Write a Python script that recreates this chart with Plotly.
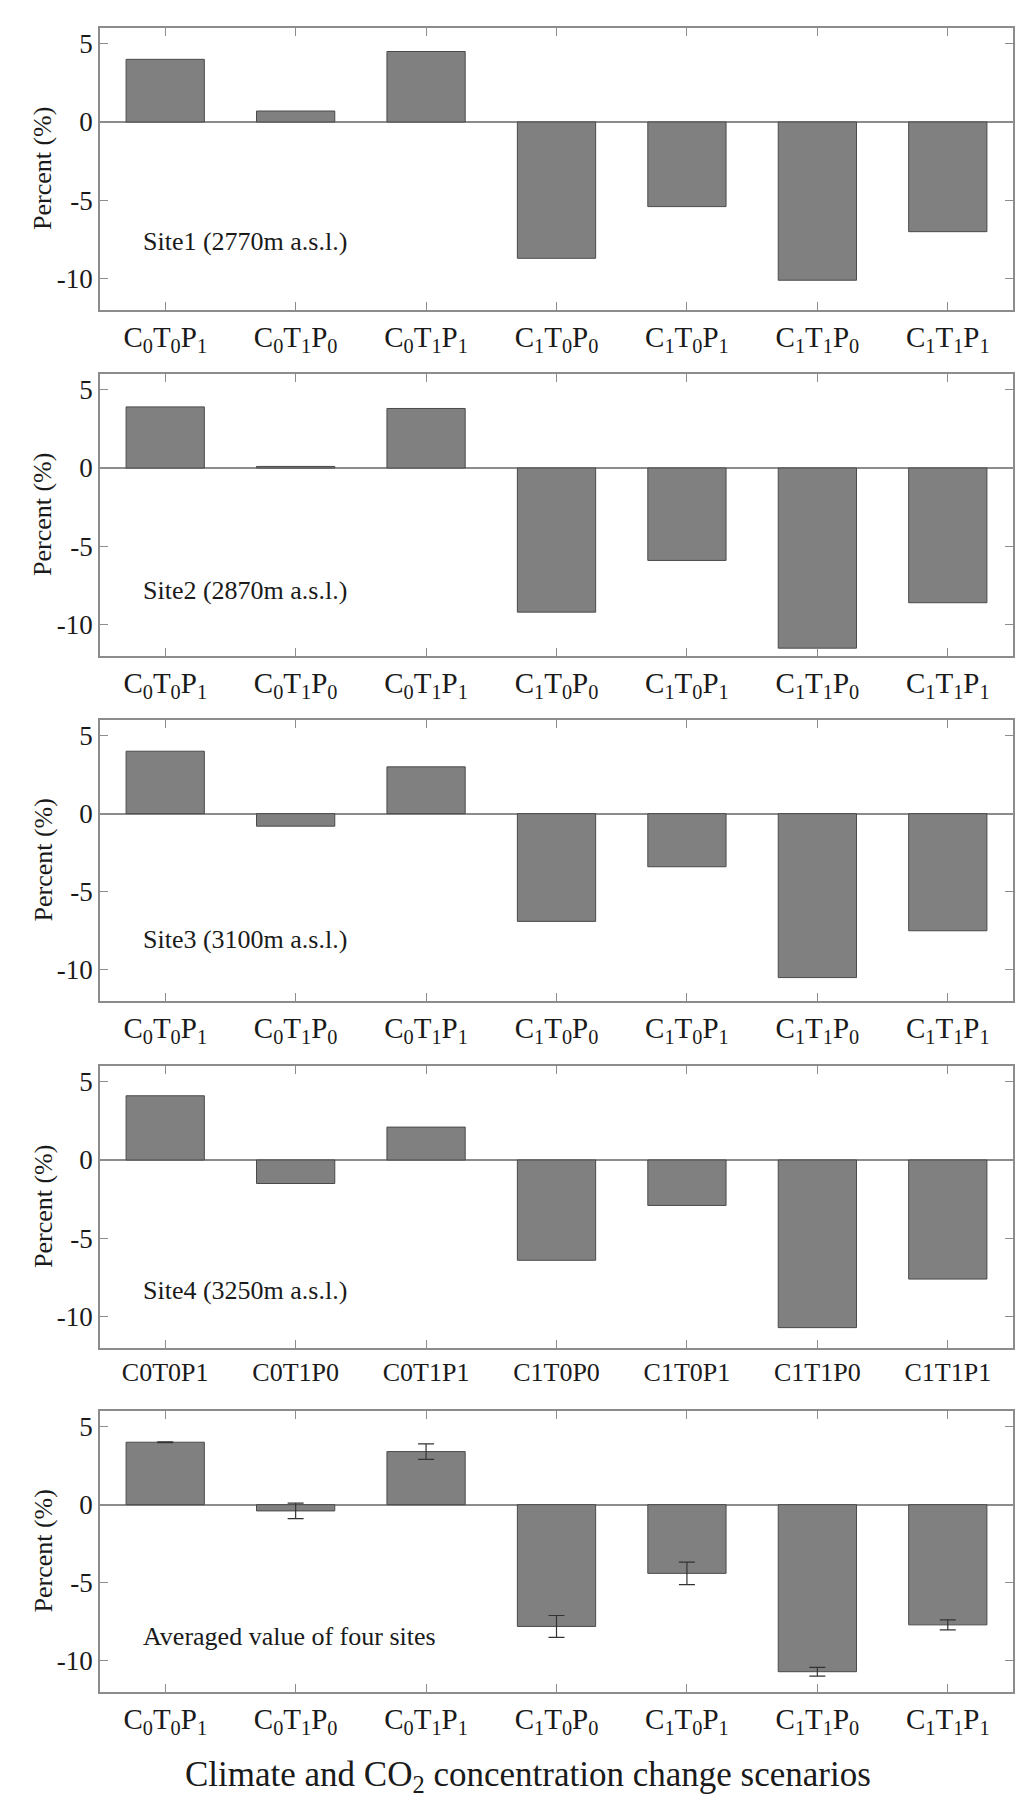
import plotly.graph_objects as go

# ---------------- data ----------------
scenarios = ["C0T0P1", "C0T1P0", "C0T1P1", "C1T0P0", "C1T0P1", "C1T1P0", "C1T1P1"]
labels_sub = ["C<sub>0</sub>T<sub>0</sub>P<sub>1</sub>", "C<sub>0</sub>T<sub>1</sub>P<sub>0</sub>",
              "C<sub>0</sub>T<sub>1</sub>P<sub>1</sub>", "C<sub>1</sub>T<sub>0</sub>P<sub>0</sub>",
              "C<sub>1</sub>T<sub>0</sub>P<sub>1</sub>", "C<sub>1</sub>T<sub>1</sub>P<sub>0</sub>",
              "C<sub>1</sub>T<sub>1</sub>P<sub>1</sub>"]
labels_plain = ["C0T0P1", "C0T1P0", "C0T1P1", "C1T0P0", "C1T0P1", "C1T1P0", "C1T1P1"]

site1 = [4.0, 0.7, 4.5, -8.7, -5.4, -10.1, -7.0]
site2 = [3.9, 0.1, 3.8, -9.2, -5.9, -11.5, -8.6]
site3 = [4.0, -0.8, 3.0, -6.9, -3.4, -10.5, -7.5]
site4 = [4.1, -1.5, 2.1, -6.4, -2.9, -10.7, -7.6]
average = [4.0, -0.4, 3.4, -7.8, -4.4, -10.7, -7.7]
average_err = [0.03, 0.5, 0.5, 0.7, 0.72, 0.28, 0.32]

panel_names = ["Site1 (2770m a.s.l.)", "Site2 (2870m a.s.l.)", "Site3 (3100m a.s.l.)",
               "Site4 (3250m a.s.l.)", "Averaged value of four sites"]
panel_values = [site1, site2, site3, site4, average]
panel_errors = [None, None, None, None, average_err]
panel_ticktext = [labels_sub, labels_sub, labels_sub, labels_plain, labels_sub]
label_y = [-7.6, -7.85, -8.05, -8.3, -8.45]

y_tickvals = [-10, -5, 0, 5]
y_ticktext = ["-10", "-5", "0", "5"]
x_title = "Climate and CO<sub>2</sub> concentration change scenarios"
y_title = "Percent (%)"

# ---------------- layout helpers ----------------
W, H = 1024, 1798
L, R, T, B = 92, 1005, 20, 1684
panel_px = [(20, 302), (366, 648), (712, 993), (1058, 1340), (1403, 1684)]
FONT = "'Liberation Serif', 'Times New Roman', serif"
AX = "#8c8c8c"
TXT = "#1a1a1a"

fig = go.Figure()
layout = dict(
    width=W, height=H,
    margin=dict(l=L, r=W - R, t=T, b=H - B, pad=0),
    paper_bgcolor="white", plot_bgcolor="white",
    showlegend=False,
    font=dict(family=FONT, color=TXT),
    annotations=[],
)

for i, (vals, errs) in enumerate(zip(panel_values, panel_errors)):
    n = i + 1
    xa = "x" if n == 1 else f"x{n}"
    ya = "y" if n == 1 else f"y{n}"
    bar = go.Bar(
        x=scenarios, y=vals, xaxis=xa, yaxis=ya, width=0.6,
        marker=dict(color="#808080", line=dict(color="#4a4a4a", width=1)),
    )
    if errs is not None:
        bar.error_y = dict(type="data", array=errs, visible=True,
                           color="#333333", thickness=1.2, width=8)
    fig.add_trace(bar)

    top, bot = panel_px[i]
    dom = [(B - bot) / (B - T), (B - top) / (B - T)]
    xkey = "xaxis" if n == 1 else f"xaxis{n}"
    ykey = "yaxis" if n == 1 else f"yaxis{n}"
    layout[xkey] = dict(
        domain=[0, 1], anchor=ya, type="category",
        categoryorder="array", categoryarray=scenarios,
        range=[-0.5, 6.5], tickmode="array", tickvals=scenarios,
        ticktext=panel_ticktext[i],
        ticks="inside", ticklen=8, tickcolor=AX, tickwidth=1.2,
        showline=True, linecolor=AX, linewidth=1.5, mirror="ticks",
        showgrid=False, zeroline=False,
        tickfont=dict(family=FONT, size=29 if i != 3 else 26, color=TXT),
    )
    layout[ykey] = dict(
        domain=dom, anchor=xa, range=[-12, 6],
        tickmode="array", tickvals=y_tickvals, ticktext=y_ticktext,
        ticks="inside", ticklen=8, tickcolor=AX, tickwidth=1.2,
        showline=True, linecolor=AX, linewidth=1.5, mirror="ticks",
        showgrid=False, zeroline=True, zerolinecolor=AX, zerolinewidth=1.5,
        tickfont=dict(family=FONT, size=27, color=TXT),
    )
    layout["annotations"].append(dict(
        text=panel_names[i], xref=f"{xa} domain", yref=ya,
        x=(133 - L) / (R - L), y=label_y[i], xanchor="left", yanchor="middle",
        showarrow=False, font=dict(family=FONT, size=26, color=TXT),
    ))
    layout["annotations"].append(dict(
        text=y_title, xref="paper", yref="paper",
        x=(35 - L) / (R - L), y=(dom[0] + dom[1]) / 2, xanchor="center", yanchor="middle",
        textangle=-90, showarrow=False, font=dict(family=FONT, size=26, color=TXT),
    ))

layout["annotations"].append(dict(
    text=x_title, xref="paper", yref="paper",
    x=(520 - L) / (R - L), y=-(1768 - B) / (B - T), xanchor="center", yanchor="middle",
    showarrow=False, font=dict(family=FONT, size=35, color=TXT),
))

fig.update_layout(**layout)
fig.write_html("out.html")
